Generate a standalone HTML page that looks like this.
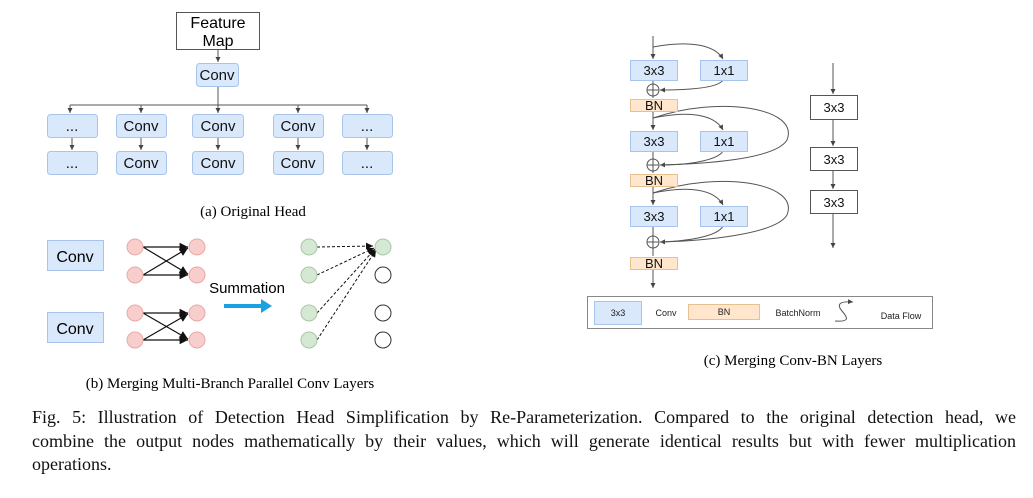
<!DOCTYPE html>
<html><head><meta charset="utf-8"><style>
body{margin:0;background:#fff;width:1033px;height:498px;overflow:hidden;position:relative}
svg{position:absolute;left:0;top:0}
.cap{position:absolute;left:32px;width:984px;top:406px;font-family:"Liberation Serif",serif;font-size:18px;line-height:23.5px;color:#111}
.cap div{white-space:nowrap}
.j{text-align:justify;text-align-last:justify;white-space:normal!important}
</style></head><body>
<svg width="1033" height="498" font-family="Liberation Sans, sans-serif">
<defs>
<marker id="a" markerWidth="6" markerHeight="6" refX="5" refY="3" orient="auto"><path d="M0,0.5 L5,3 L0,5.5z" fill="#444"/></marker>
<marker id="k" markerWidth="8" markerHeight="8" refX="7" refY="4" orient="auto"><path d="M0,0.5 L7,4 L0,7.5z" fill="#111"/></marker>
</defs>
<!-- panel a -->
<rect x="176.5" y="12.5" width="83" height="37" fill="#fff" stroke="#555"/>
<text x="218" y="28" font-size="16" text-anchor="middle">Feature</text>
<text x="218" y="46" font-size="16" text-anchor="middle">Map</text>
<g stroke="#555" fill="none" stroke-width="1">
<line x1="218" y1="50" x2="218" y2="62" marker-end="url(#a)"/>
<line x1="218" y1="86" x2="218" y2="105"/>
<line x1="70" y1="105" x2="367" y2="105"/>
<line x1="70" y1="105" x2="70" y2="113" marker-end="url(#a)"/>
<line x1="141" y1="105" x2="141" y2="113" marker-end="url(#a)"/>
<line x1="218" y1="105" x2="218" y2="113" marker-end="url(#a)"/>
<line x1="298" y1="105" x2="298" y2="113" marker-end="url(#a)"/>
<line x1="367" y1="105" x2="367" y2="113" marker-end="url(#a)"/>
<line x1="72" y1="137" x2="72" y2="150" marker-end="url(#a)"/>
<line x1="141" y1="137" x2="141" y2="150" marker-end="url(#a)"/>
<line x1="218" y1="137" x2="218" y2="150" marker-end="url(#a)"/>
<line x1="298" y1="137" x2="298" y2="150" marker-end="url(#a)"/>
<line x1="367" y1="137" x2="367" y2="150" marker-end="url(#a)"/>
</g>
<g fill="#dae8fc" stroke="#a9c4eb">
<rect x="196.5" y="63.5" width="42" height="23" rx="3"/>
<rect x="47.5" y="114.5" width="50" height="23" rx="3"/><rect x="116.5" y="114.5" width="50" height="23" rx="3"/><rect x="192.5" y="114.5" width="51" height="23" rx="3"/><rect x="273.5" y="114.5" width="50" height="23" rx="3"/><rect x="342.5" y="114.5" width="50" height="23" rx="3"/>
<rect x="47.5" y="151.5" width="50" height="23" rx="3"/><rect x="116.5" y="151.5" width="50" height="23" rx="3"/><rect x="192.5" y="151.5" width="51" height="23" rx="3"/><rect x="273.5" y="151.5" width="50" height="23" rx="3"/><rect x="342.5" y="151.5" width="50" height="23" rx="3"/>
</g>
<g font-size="15" text-anchor="middle" fill="#111">
<text x="217" y="80">Conv</text>
<text x="72" y="131">...</text><text x="141" y="131">Conv</text><text x="218" y="131">Conv</text><text x="298" y="131">Conv</text><text x="367" y="131">...</text>
<text x="72" y="168">...</text><text x="141" y="168">Conv</text><text x="218" y="168">Conv</text><text x="298" y="168">Conv</text><text x="367" y="168">...</text>
</g>
<text x="253" y="216" font-size="15" font-family="Liberation Serif, serif" text-anchor="middle">(a) Original Head</text>
<!-- panel b -->
<g fill="#dae8fc" stroke="#a9c4eb"><rect x="47.5" y="240.5" width="56" height="30"/><rect x="47.5" y="312.5" width="56" height="30"/></g>
<text x="75" y="262" font-size="16" text-anchor="middle">Conv</text>
<text x="75" y="334" font-size="16" text-anchor="middle">Conv</text>
<g stroke="#111" stroke-width="1.2">
<line x1="143" y1="247" x2="188" y2="247" marker-end="url(#k)"/><line x1="143" y1="275" x2="188" y2="275" marker-end="url(#k)"/>
<line x1="143" y1="247" x2="188" y2="274" marker-end="url(#k)"/><line x1="143" y1="275" x2="188" y2="248" marker-end="url(#k)"/>
<line x1="143" y1="313" x2="188" y2="313" marker-end="url(#k)"/><line x1="143" y1="340" x2="188" y2="340" marker-end="url(#k)"/>
<line x1="143" y1="313" x2="188" y2="339" marker-end="url(#k)"/><line x1="143" y1="340" x2="188" y2="314" marker-end="url(#k)"/>
</g>
<g fill="#f8cecc" stroke="#e8a9a6">
<circle cx="135" cy="247" r="8"/><circle cx="135" cy="275" r="8"/><circle cx="135" cy="313" r="8"/><circle cx="135" cy="340" r="8"/>
<circle cx="197" cy="247" r="8"/><circle cx="197" cy="275" r="8"/><circle cx="197" cy="313" r="8"/><circle cx="197" cy="340" r="8"/>
</g>
<text x="247" y="293" font-size="15" text-anchor="middle">Summation</text>
<line x1="224" y1="306" x2="262" y2="306" stroke="#1ba1e2" stroke-width="4"/>
<path d="M261,299 L272,306 L261,313z" fill="#1ba1e2"/>
<g stroke="#111" stroke-dasharray="3,2" stroke-width="1">
<line x1="317" y1="247" x2="373" y2="246" marker-end="url(#k)"/><line x1="317" y1="275" x2="374" y2="248" marker-end="url(#k)"/>
<line x1="317" y1="313" x2="375" y2="249" marker-end="url(#k)"/><line x1="317" y1="340" x2="376" y2="250" marker-end="url(#k)"/>
</g>
<g fill="#d5e8d4" stroke="#a7c9a4">
<circle cx="309" cy="247" r="8"/><circle cx="309" cy="275" r="8"/><circle cx="309" cy="313" r="8"/><circle cx="309" cy="340" r="8"/><circle cx="383" cy="247" r="8"/>
</g>
<g fill="#fff" stroke="#333"><circle cx="383" cy="275" r="8"/><circle cx="383" cy="313" r="8"/><circle cx="383" cy="340" r="8"/></g>
<text x="230" y="388" font-size="15" font-family="Liberation Serif, serif" text-anchor="middle">(b) Merging Multi-Branch Parallel Conv Layers</text>
<!-- panel c -->
<g stroke="#555" fill="none" stroke-width="1">
<line x1="653" y1="36" x2="653" y2="59" marker-end="url(#a)"/>
<path d="M653,47 C690,40 715,45 723,59" marker-end="url(#a)"/>
<line x1="653" y1="80" x2="653" y2="98" />
<path d="M723,80 C718,88 690,90 660,90" marker-end="url(#a)"/>
<line x1="653" y1="111" x2="653" y2="130" marker-end="url(#a)"/>
<path d="M653,118 C690,110 715,115 723,130" marker-end="url(#a)"/>
<path d="M653,118 C720,95 800,108 787,140 C775,160 700,164 660,165" marker-end="url(#a)"/>
<line x1="653" y1="151" x2="653" y2="173"/>
<path d="M723,151 C718,160 690,165 660,165"/>
<line x1="653" y1="186" x2="653" y2="205" marker-end="url(#a)"/>
<path d="M653,193 C690,185 715,190 723,205" marker-end="url(#a)"/>
<path d="M653,193 C720,170 800,183 787,215 C775,235 700,241 660,242" marker-end="url(#a)"/>
<line x1="653" y1="226" x2="653" y2="256"/>
<path d="M723,226 C718,236 690,241 660,242"/>
<line x1="653" y1="269" x2="653" y2="288" marker-end="url(#a)"/>
<line x1="833" y1="63" x2="833" y2="94" marker-end="url(#a)"/>
<line x1="833" y1="119" x2="833" y2="146" marker-end="url(#a)"/>
<line x1="833" y1="170" x2="833" y2="189" marker-end="url(#a)"/>
<line x1="833" y1="213" x2="833" y2="248" marker-end="url(#a)"/>
<circle cx="653" cy="90" r="6" fill="#fff"/><path d="M647,90h12M653,84v12"/>
<circle cx="653" cy="165" r="6" fill="#fff"/><path d="M647,165h12M653,159v12"/>
<circle cx="653" cy="242" r="6" fill="#fff"/><path d="M647,242h12M653,236v12"/>
</g>
<g fill="#dae8fc" stroke="#a9c4eb">
<rect x="630.5" y="60.5" width="47" height="20"/><rect x="700.5" y="60.5" width="47" height="20"/>
<rect x="630.5" y="131.5" width="47" height="20"/><rect x="700.5" y="131.5" width="47" height="20"/>
<rect x="630.5" y="206.5" width="47" height="20"/><rect x="700.5" y="206.5" width="47" height="20"/>
<rect x="594.5" y="301.5" width="47" height="23"/>
</g>
<g fill="#ffe6cc" stroke="#e6c08e">
<rect x="630.5" y="99.5" width="47" height="12"/><rect x="630.5" y="174.5" width="47" height="12"/><rect x="630.5" y="257.5" width="47" height="12"/>
<rect x="688.5" y="304.5" width="71" height="15"/>
</g>
<g fill="#fff" stroke="#555"><rect x="810.5" y="95.5" width="47" height="24"/><rect x="810.5" y="147.5" width="47" height="23"/><rect x="810.5" y="190.5" width="47" height="23"/></g>
<g font-size="13" text-anchor="middle" fill="#111">
<text x="654" y="75">3x3</text><text x="724" y="75">1x1</text><text x="654" y="110">BN</text>
<text x="654" y="146">3x3</text><text x="724" y="146">1x1</text><text x="654" y="185">BN</text>
<text x="654" y="221">3x3</text><text x="724" y="221">1x1</text><text x="654" y="268">BN</text>
<text x="834" y="112">3x3</text><text x="834" y="164">3x3</text><text x="834" y="207">3x3</text>
</g>
<rect x="587.5" y="296.5" width="345" height="32" fill="none" stroke="#888"/>
<g font-size="9" fill="#222" text-anchor="middle">
<text x="618" y="316">3x3</text><text x="666" y="316">Conv</text><text x="724" y="315">BN</text><text x="798" y="316">BatchNorm</text><text x="901" y="319">Data Flow</text>
</g>
<path d="M835,321 C850,322 848,318 842,311 C836,304 840,301 853,302" fill="none" stroke="#555" marker-end="url(#a)"/>
<text x="793" y="365" font-size="15" font-family="Liberation Serif, serif" text-anchor="middle">(c) Merging Conv-BN Layers</text>
</svg>
<div class="cap">
<div class="j">Fig. 5: Illustration of Detection Head Simplification by Re-Parameterization. Compared to the original detection head, we</div>
<div class="j">combine the output nodes mathematically by their values, which will generate identical results but with fewer multiplication</div>
<div>operations.</div>
</div>
</body></html>
